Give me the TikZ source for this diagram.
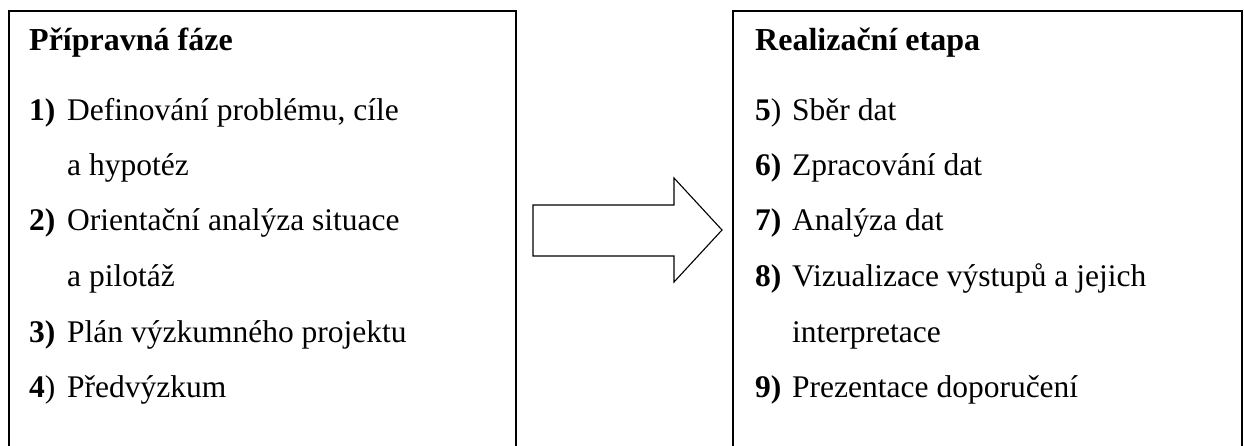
\documentclass[tikz,border=0pt]{standalone}
\usepackage{fontspec}
\setmainfont{Liberation Serif}

\tikzset{
  frame/.style={line width=1.3pt},
  heading/.style={anchor=base west, inner sep=0pt,
    font=\fontsize{32}{32}\selectfont\bfseries},
  num/.style={anchor=base west, inner sep=0pt,
    font=\fontsize{31.5}{31.5}\selectfont\bfseries},
  item/.style={anchor=base west, inner sep=0pt,
    font=\fontsize{31.5}{31.5}\selectfont},
}

\begin{document}
\begin{tikzpicture}[x=1pt, y=-1pt]
    \useasboundingbox (0,0) rectangle (1244,446);
    % boxes
    \draw[frame] (9,446) |- (516,11) -- (516,446);
    \draw[frame] (733,446) |- (1242,11) -- (1242,446);
    % left box
    \node (H1) at (29,51) [heading] {Přípravná fáze};
    \node (N1) at (29,121) [num] {1)};
    \node (T1) at (67,121) [item] {Definování problému, cíle};
    \node (T1b) at (67,176) [item] {a hypotéz};
    \node (N2) at (29,231) [num] {2)};
    \node (T2) at (67,231) [item] {Orientační analýza situace};
    \node (T2b) at (67,286) [item] {a pilotáž};
    \node (N3) at (29,342) [num] {3)};
    \node (T3) at (67,342) [item] {Plán výzkumného projektu};
    \node (N4) at (29,397) [item] {\textbf{4})};
    \node (T4) at (67,397) [item] {Předvýzkum};
    % arrow
    \draw[line width=1.1pt, line join=miter]
      (533,205) -- (674,205) -- (674,178) -- (722,230)
      -- (674,282) -- (674,256) -- (533,256) -- cycle;
    % right box
    \node (H2) at (755,51) [heading] {Realizační etapa};
    \node (N5) at (755,121) [item] {\textbf{5})};
    \node (T5) at (792,121) [item] {Sběr dat};
    \node (N6) at (755,176) [num] {6)};
    \node (T6) at (792,176) [item] {Zpracování dat};
    \node (N7) at (755,231) [num] {7)};
    \node (T7) at (792,231) [item] {Analýza dat};
    \node (N8) at (755,286) [num] {8)};
    \node (T8) at (792,286) [item] {Vizualizace výstupů a jejich};
    \node (T8b) at (792,342) [item] {interpretace};
    \node (N9) at (755,397) [num] {9)};
    \node (T9) at (792,397) [item] {Prezentace doporučení};
  \end{tikzpicture}
\end{document}
